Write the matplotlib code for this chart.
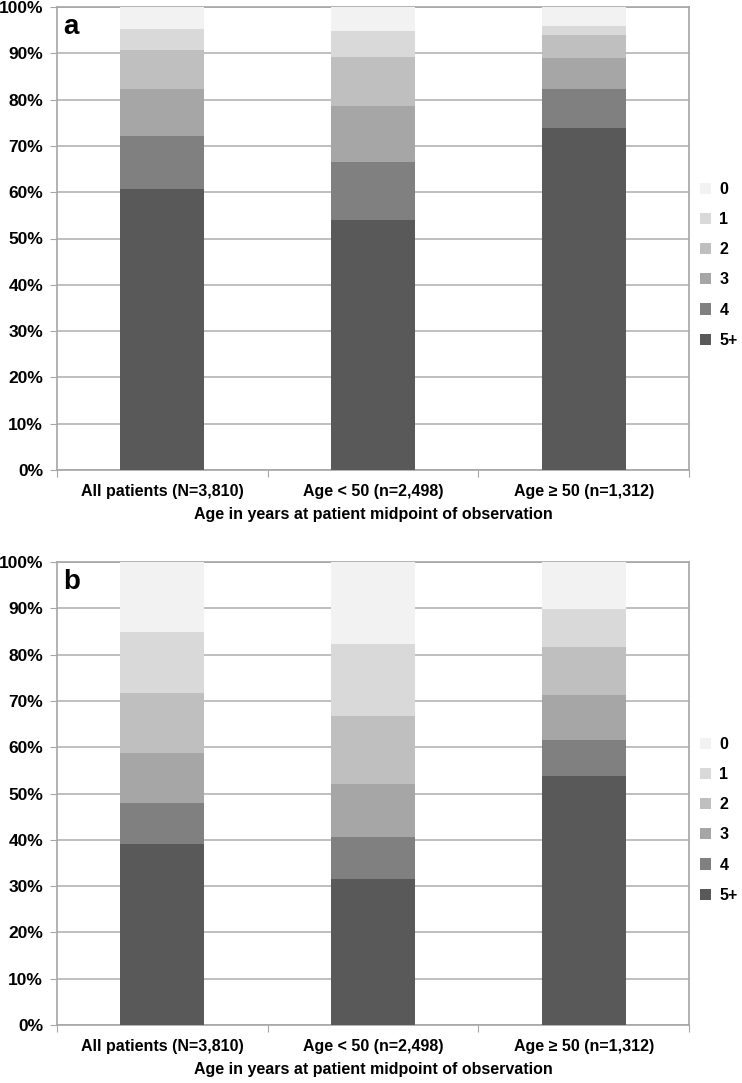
import numpy as np
import matplotlib
matplotlib.use("Agg")
from matplotlib import pyplot as plt
from matplotlib.patches import Patch

plt.rcParams['font.family'] = ['Liberation Sans', 'DejaVu Sans']
plt.rcParams['font.weight'] = 'bold'

#   categories and series
groups = ['All patients (N=3,810)', 'Age < 50 (n=2,498)', 'Age \u2265 50 (n=1,312)']
levels = ['5+', '4', '3', '2', '1', '0']
colors = ['#595959', '#808080', '#a6a6a6', '#bfbfbf', '#d9d9d9', '#f2f2f2']

#   panel a, percent per level (5+, 4, 3, 2, 1, 0)
a_5 = [60.7, 54.0, 73.9]
a_4 = [11.4, 12.6, 8.4]
a_3 = [10.2, 12.0, 6.7]
a_2 = [8.4, 10.6, 5.0]
a_1 = [4.5, 5.6, 2.0]
a_0 = [4.8, 5.2, 4.0]

#   panel b
b_5 = [39.2, 31.5, 53.8]
b_4 = [8.8, 9.2, 7.7]
b_3 = [10.7, 11.3, 9.8]
b_2 = [13.1, 14.7, 10.4]
b_1 = [13.1, 15.5, 8.1]
b_0 = [15.1, 17.8, 10.2]

panels = [('a', [a_5, a_4, a_3, a_2, a_1, a_0]),
          ('b', [b_5, b_4, b_3, b_2, b_1, b_0])]

W, H = 742, 1083
fig = plt.figure(figsize=(W / 100, H / 100), dpi=100)

#   axes boxes in pixels: left, top, right, bottom
boxes = [(57, 7, 689, 470), (57, 562, 689, 1025)]

grey = '#a6a6a6'
x = np.arange(len(groups))

for (letter, series), (l, t, r, b) in zip(panels, boxes):
    ax = fig.add_axes([l / W, 1 - b / H, (r - l) / W, (b - t) / H])
    bottom = np.zeros(len(groups))
    for vals, c, lab in zip(series, colors, levels):
        ax.bar(x, vals, 0.4, bottom=bottom, color=c, zorder=3, label=lab)
        bottom += np.array(vals)

    ax.set_xlim(-0.5, 2.5)
    ax.set_ylim(0, 100)
    ax.set_yticks(np.arange(0, 101, 10))
    ax.set_yticklabels(['%d%%' % v for v in range(0, 101, 10)], fontsize=12.5)
    ax.yaxis.grid(True, color='#b4b4b4', linewidth=1.2, zorder=0)

    ax.set_xticks([-0.5, 0.5, 1.5, 2.5])
    ax.set_xticklabels([])
    ax.set_xticks(x, minor=True)
    ax.set_xticklabels(groups, minor=True, fontsize=11.5)
    ax.tick_params(axis='x', which='minor', length=0, pad=10)
    ax.tick_params(axis='x', which='major', length=5, color=grey)
    ax.tick_params(axis='y', length=5, color=grey, pad=5)
    ax.set_xlabel('Age in years at patient midpoint of observation',
                  fontsize=11.5, fontweight='bold', labelpad=6)

    for s in ['left', 'bottom', 'right', 'top']:
        ax.spines[s].set_color(grey)
        ax.spines[s].set_linewidth(1.2)

    ax.text(0.01, 0.985, letter, transform=ax.transAxes, fontsize=20,
            fontweight='bold', va='top', ha='left')

    handles = [Patch(facecolor=c, edgecolor='none') for c in colors[::-1]]
    ax.legend(handles, levels[::-1], loc='center left',
              bbox_to_anchor=(1.01, 0.443), frameon=False, fontsize=11.5,
              handlelength=0.7, handleheight=0.7, labelspacing=0.95,
              handletextpad=0.5, borderaxespad=0.3, borderpad=0)

fig.savefig('out.png', dpi=100)
